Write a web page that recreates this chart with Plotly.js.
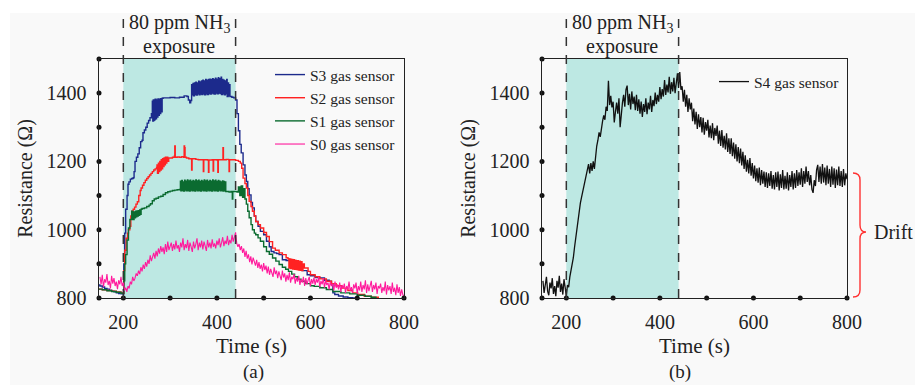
<!DOCTYPE html>
<html>
<head>
<meta charset="utf-8">
<script src="https://cdn.plot.ly/plotly-3.0.1.min.js"></script>
<style>html,body{margin:0;padding:0;background:#fff;}#chart{width:915px;height:385px;}</style>
</head>
<body>
<div id="chart"></div>
<script>
// ---------- Panel (a): S3, S2, S1, S0 ----------
const s3Time = [146,150,155,160,165,170,175,180,185,190,195,199,
  201,203,205,208,210,212,215,218,221,223,225,228,
  231,234,237,240,242,245,248,251,254,257,260,
  262,263,264,265,266,267,268,270,271,273,274,276,277,279,280,282,283,285,
  290,300,310,320,330,336,339,342,344,
  346,347,349,350,352,353,355,356,358,359,361,362,364,365,367,368,370,371,373,374,
  376,377,379,380,382,383,385,386,388,389,391,392,394,395,397,398,400,401,403,404,
  406,407,409,410,412,413,415,416,418,419,421,422,424,425,427,428,
  432,436,440,443,446,449,452,456,460,463,466,469,
  473,476,480,483,488,493,500,506,512,516,522,528,
  533,540,548,556,565,573,582,593,600,610,620,630,
  640,645,648,652,660,670,680,690,700];
const s3Res = [838,835,832,828,826,823,820,818,815,813,812,812,
  900,990,1060,1100,1133,1140,1148,1150,1152,1170,1200,1212,
  1222,1240,1258,1262,1284,1292,1300,1312,1320,1328,1340,
  1376,1318,1380,1320,1378,1322,1382,1325,1380,1330,1383,1335,1382,1340,1384,1345,1385,1386,
  1386,1387,1386,1388,1392,1390,1380,1372,1378,
  1425,1395,1428,1392,1430,1396,1432,1394,1430,1398,1435,1395,1433,1397,1436,1396,1438,1398,1436,1395,
  1440,1398,1438,1396,1440,1399,1441,1397,1440,1400,1442,1398,1440,1397,1444,1400,1441,1398,1445,1400,
  1442,1399,1447,1396,1440,1398,1438,1395,1436,1398,1440,1390,1430,1392,1425,1390,
  1388,1386,1380,1340,1290,1250,1225,1190,1160,1141,1120,1102,
  1080,1064,1040,1024,1010,995,985,966,950,936,932,930,
  927,912,910,905,890,888,880,868,865,860,859,852,
  849,840,815,810,806,803,801,800,800];

const s2Time = [146,155,165,175,185,195,199,201,203,206,209,211,
  214,216,218,221,224,227,230,233,236,238,241,244,
  247,250,253,256,259,262,265,268,271,
  272,273,275,276,278,279,281,282,284,285,287,288,290,291,293,295,297,
  300,305,309,310,311,315,320,325,329,330,331,332,
  335,340,345,346,347,355,360,370,371,372,380,382,
  383,390,392,393,400,402,403,410,413,414,420,425,
  426,427,435,440,446,450,453,456,460,463,466,469,
  473,476,480,483,488,493,500,506,512,519,525,533,
  540,548,552,554,556,558,560,562,564,566,568,570,572,574,576,578,580,582,584,587,595,
  600,610,620,634,645,655,667,680,690,701,715,730,745];
const s2Res = [826,824,822,820,818,815,814,880,940,975,990,1000,
  1010,1040,1054,1060,1066,1075,1082,1100,1115,1122,1130,1138,
  1145,1150,1155,1160,1165,1170,1175,1178,1182,
  1190,1165,1195,1170,1200,1175,1205,1178,1208,1185,1210,1190,1212,1195,1212,1200,1210,
  1210,1212,1215,1245,1212,1213,1212,1214,1212,1245,1240,1212,
  1210,1208,1208,1175,1208,1206,1205,1205,1170,1205,1204,1168,
  1204,1205,1172,1205,1204,1168,1205,1205,1240,1205,1206,1205,
  1170,1205,1205,1203,1200,1195,1180,1151,1135,1122,1100,1083,
  1068,1054,1040,1024,1015,1005,992,980,965,946,940,932,
  927,918,915,888,914,886,913,885,912,884,910,883,909,882,908,881,906,880,900,888,878,
  868,862,856,849,842,836,829,822,815,810,805,802,800];

const s1Time = [146,155,165,175,185,195,199,201,203,205,208,211,214,218,
  220,221,223,224,226,227,229,230,232,233,235,236,238,
  240,245,250,255,258,262,266,270,275,280,285,290,295,300,305,310,315,320,
  322,323,325,326,328,329,331,332,334,335,337,338,340,341,343,344,346,347,349,350,
  352,353,355,356,358,359,361,362,364,365,367,368,370,371,373,374,376,377,379,380,
  382,383,385,386,388,389,391,392,394,395,397,398,400,401,403,404,406,407,409,410,
  412,413,415,416,418,419,
  422,426,430,433,434,440,443,446,449,452,455,458,460,
  463,466,469,473,476,480,483,488,493,500,506,512,519,
  526,533,540,547,553,560,566,573,580,590,600,608,620,
  634,648,665,684,700,717,730,740];
const s1Res = [826,824,821,819,817,814,813,850,900,927,970,1005,1030,1054,
  1048,1030,1052,1035,1054,1038,1055,1040,1056,1042,1058,1045,1060,
  1062,1064,1068,1072,1076,1085,1090,1092,1096,1098,1103,1108,1111,1113,1115,1116,1117,1118,
  1142,1114,1144,1115,1140,1113,1145,1116,1142,1114,1146,1115,1143,1113,1145,1116,1141,1114,1144,1115,
  1142,1113,1146,1116,1143,1114,1145,1115,1141,1113,1144,1116,1142,1114,1146,1115,1143,1113,1145,1116,
  1141,1114,1144,1115,1142,1113,1146,1116,1143,1114,1145,1115,1141,1113,1144,1116,1142,1114,1140,1115,
  1143,1113,1141,1114,1140,1112,
  1112,1110,1112,1090,1112,1112,1110,1125,1100,1128,1095,1120,1090,
  1075,1054,1035,1015,1000,990,985,976,966,950,936,928,917,
  908,898,890,884,878,870,862,855,849,842,836,834,830,
  825,819,815,812,808,805,802,800];

// S0: sampled every 2.5 s from 150 s
const s0Start = 150, s0Step = 2.5;
const s0Res = [862,840,868,832,855,845,870,838, 850,828,865,842,858,835,848,826,
  852,840,862,835,845,822,830,818, 835,828,848,840,862,850,858,872,
  865,880,870,890,878,898,885,905, 892,912,900,925,908,918,932,915,
  938,922,945,930,952,935,948,928, 958,935,965,940,952,962,938,958,
  942,968,945,955,935,962,948,975, 940,958,946,970,938,962,950,935,
  965,945,958,975,940,962,948,968, 942,965,952,938,970,948,962,945,
  972,950,960,945,968,955,975,948, 962,978,952,968,958,982,955,970,
  960,985,965,978,992,960,950,958, 940,952,932,945,920,938,915,928,
  905,922,898,918,902,895,912,888, 905,885,898,878,902,882,895,872,
  892,868,885,875,862,890,870,880, 858,878,865,852,880,860,872,848,
  868,852,875,845,862,855,870,842, 860,848,865,838,855,845,862,835,
  858,840,852,862,835,855,842,860, 838,855,845,862,832,850,840,858,
  830,852,838,845,825,848,835,842, 822,848,830,840,825,845,818,838,
  828,842,815,835,825,848,820,832, 815,840,828,845,812,835,822,848,
  818,838,825,852,815,840,820,835, 850,818,838,825,845,812,835,828,
  842,815,832,820,848,810,838,822, 835,812,845,818,830,808,840,815,
  832,806,825,810,802];

// ---------- Panel (b): S4, sampled every 2.5 s from 150 s ----------
const s4Start = 150, s4Step = 2.5;
const s4Res = [850,815,838,862,820,808,845,828, 858,812,835,805,850,830,865,818,
  842,810,855,822,806,838,832,862, 880,905,918,948,975,1010,1040,1060,
  1078,1095,1110,1125,1138,1162,1175,1192, 1165,1195,1172,1200,1178,1225,1245,1262,
  1285,1272,1305,1318,1335,1322,1360,1348, 1436,1365,1392,1358,1375,1314,1345,1372,
  1340,1385,1300,1350,1372,1395,1360,1410, 1422,1365,1398,1352,1405,1368,1390,1350,
  1395,1348,1382,1340,1375,1330,1368,1345, 1385,1338,1372,1352,1392,1345,1380,1362,
  1402,1368,1395,1375,1418,1382,1412,1390, 1438,1395,1425,1402,1448,1398,1432,1405,
  1445,1400,1425,1458,1415,1462,1410,1420, 1375,1410,1360,1395,1345,1385,1352,1372,
  1318,1355,1308,1345,1295,1338,1300,1330, 1285,1328,1278,1315,1290,1322,1270,1305,
  1268,1312,1262,1298,1275,1305,1252,1290, 1245,1292,1240,1275,1235,1282,1228,1268,
  1222,1268,1215,1255,1208,1250,1200,1242, 1195,1238,1188,1228,1178,1218,1170,1205,
  1165,1210,1158,1195,1150,1188,1142,1180, 1138,1182,1130,1175,1135,1170,1125,1168,
  1122,1165,1128,1172,1120,1160,1118,1168, 1125,1170,1115,1162,1122,1175,1118,1158,
  1120,1168,1115,1160,1125,1172,1118,1165, 1122,1175,1128,1168,1132,1180,1125,1172,
  1135,1185,1140,1172,1130,1160,1118,1108, 1145,1128,1175,1190,1140,1185,1135,1192,
  1138,1182,1130,1188,1135,1178,1125,1185, 1132,1180,1122,1176,1130,1185,1128,1172,
  1125,1178,1130,1165,1148];

// ---------- Axes / annotations ----------
const xRange = [148, 800];
const yRange = [800, 1500];
const xTickVals = [200, 400, 600, 800];
const yTickVals = [800, 1000, 1200, 1400];
const xDotVals = [148, 200, 300, 400, 500, 600, 700, 800];
const yDotVals = [900, 1000, 1100, 1200, 1300, 1400, 1500];
const exposureStart = 200, exposureEnd = 440;
const seriesNamesA = ['S3 gas sensor', 'S2 gas sensor', 'S1 gas sensor', 'S0 gas sensor'];
const seriesNameB = 'S4 gas sensor';

const FONT = '"Liberation Serif", "Times New Roman", serif';
const colors = {s3: '#1c2a8c', s2: '#ff2222', s1: '#0b6b30', s0: '#ff1a9c', s4: '#111111'};

function dotTrace(xa, ya) {
  const xs = [], ys = [];
  xDotVals.forEach(v => { xs.push(v); ys.push(yRange[0]); });
  yDotVals.forEach(v => { xs.push(xRange[0]); ys.push(v); });
  return {x: xs, y: ys, xaxis: xa, yaxis: ya, mode: 'markers', type: 'scatter',
    marker: {size: 5, color: '#111'}, cliponaxis: false, showlegend: false, hoverinfo: 'skip'};
}

const traces = [
  {x: s3Time, y: s3Res, name: seriesNamesA[0], type: 'scatter', mode: 'lines', line: {color: colors.s3, width: 1.4, shape: 'hv'}, xaxis: 'x', yaxis: 'y'},
  {x: s2Time, y: s2Res, name: seriesNamesA[1], type: 'scatter', mode: 'lines', line: {color: colors.s2, width: 1.4, shape: 'hv'}, xaxis: 'x', yaxis: 'y'},
  {x: s1Time, y: s1Res, name: seriesNamesA[2], type: 'scatter', mode: 'lines', line: {color: colors.s1, width: 1.4, shape: 'hv'}, xaxis: 'x', yaxis: 'y'},
  {x0: s0Start, dx: s0Step, y: s0Res, name: seriesNamesA[3], type: 'scatter', mode: 'lines', line: {color: colors.s0, width: 1.1}, xaxis: 'x', yaxis: 'y'},
  {x0: s4Start, dx: s4Step, y: s4Res, name: seriesNameB, type: 'scatter', mode: 'lines', line: {color: colors.s4, width: 1.3}, xaxis: 'x2', yaxis: 'y2', legend: 'legend2'},
  dotTrace('x', 'y'),
  dotTrace('x2', 'y2')
];

function xAxis(domain, anchor) {
  return {domain: domain, range: xRange, tickvals: xTickVals, ticks: 'outside', ticklen: 6, anchor: anchor,
    tickcolor: 'rgba(0,0,0,0)', showline: true, mirror: true, linecolor: '#222', linewidth: 1.4,
    showgrid: false, zeroline: false, tickfont: {family: FONT, size: 20, color: '#222'},
    title: {text: 'Time (s)', font: {family: FONT, size: 21, color: '#222'}, standoff: 6}, automargin: false};
}
function yAxis(domain, anchor) {
  return {domain: domain, range: yRange, tickvals: yTickVals, ticks: 'outside', ticklen: 7,
    tickcolor: 'rgba(0,0,0,0)', showline: true, mirror: true, linecolor: '#222', linewidth: 1.4,
    showgrid: false, zeroline: false, anchor: anchor, tickfont: {family: FONT, size: 20, color: '#222'},
    title: {text: 'Resistance (Ω)', font: {family: FONT, size: 20, color: '#222'}, standoff: 8}, automargin: false};
}

const yDom = [0.226, 0.8468];
const shapes = [
  {type: 'rect', xref: 'paper', yref: 'paper', x0: 10/915, x1: 1, y0: 0, y1: 1 - 13/385, fillcolor: '#f9f9f9', line: {width: 0}, layer: 'below'}
];
[['x', 'y'], ['x2', 'y2']].forEach(([xa, ya]) => {
  shapes.push({type: 'rect', xref: xa, yref: ya, x0: exposureStart, x1: exposureEnd, y0: yRange[0], y1: yRange[1],
    fillcolor: '#bde8e3', line: {width: 0}, layer: 'below'});
  [exposureStart, exposureEnd].forEach(v => shapes.push({type: 'line', xref: xa, yref: 'paper', x0: v, x1: v,
    y0: yDom[0], y1: 1 - 15/385, line: {color: '#333', width: 1.5, dash: 'dash'}}));
});
// red brace for "Drift"
const P = (px, py) => (px / 915).toFixed(5) + ',' + (1 - py / 385).toFixed(5);
shapes.push({type: 'path', xref: 'paper', yref: 'paper', line: {color: '#ff3333', width: 1.4},
  path: 'M' + P(853,173) + ' Q' + P(860,173) + ' ' + P(860,180) + ' L' + P(860,225) + ' Q' + P(860,232) + ' ' + P(866,232) +
        ' Q' + P(860,232) + ' ' + P(860,239) + ' L' + P(860,290) + ' Q' + P(860,297) + ' ' + P(853,297)});

const annFont = {family: FONT, size: 20, color: '#222'};
const labFont = {family: FONT, size: 19, color: '#222'};
const annotations = [];
['x', 'x2'].forEach(xa => {
  annotations.push({xref: xa, yref: 'paper', x: (exposureStart + exposureEnd) / 2, y: 1 - 23/385, text: '80 ppm NH<sub>3</sub>', showarrow: false, font: annFont, yanchor: 'middle'});
  annotations.push({xref: xa, yref: 'paper', x: (exposureStart + exposureEnd) / 2, y: 1 - 46/385, text: 'exposure', showarrow: false, font: annFont, yanchor: 'middle'});
});
annotations.push({xref: 'paper', yref: 'paper', x: 241/915, y: 0, text: '(a)', showarrow: false, font: labFont, yanchor: 'bottom'});
annotations.push({xref: 'paper', yref: 'paper', x: 693/915, y: 0, text: '(b)', showarrow: false, font: labFont, yanchor: 'bottom'});
annotations.push({xref: 'paper', yref: 'paper', x: 872/915, y: 1 - 232/385, text: 'Drift', showarrow: false, font: annFont, xanchor: 'left', yanchor: 'middle'});

const legFont = {family: FONT, size: 15.5, color: '#222'};
const layout = {
  width: 915, height: 385,
  margin: {l: 0, r: 0, t: 0, b: 0, pad: 0},
  paper_bgcolor: '#ffffff', plot_bgcolor: '#f9f9f9',
  font: {family: FONT, color: '#222'},
  xaxis: xAxis([99/915, 404/915], 'y'),
  yaxis: yAxis(yDom, 'x'),
  xaxis2: xAxis([542/915, 847/915], 'y2'),
  yaxis2: yAxis(yDom, 'x2'),
  showlegend: true,
  legend: {x: 270/915, y: 1 - 58/385, xanchor: 'left', yanchor: 'top', bgcolor: 'rgba(0,0,0,0)', font: legFont, borderwidth: 0},
  legend2: {x: 714/915, y: 1 - 65/385, xanchor: 'left', yanchor: 'top', bgcolor: 'rgba(0,0,0,0)', font: legFont, borderwidth: 0},
  shapes: shapes,
  annotations: annotations
};

Plotly.newPlot('chart', traces, layout, {displayModeBar: false, staticPlot: true});
</script>
</body>
</html>
